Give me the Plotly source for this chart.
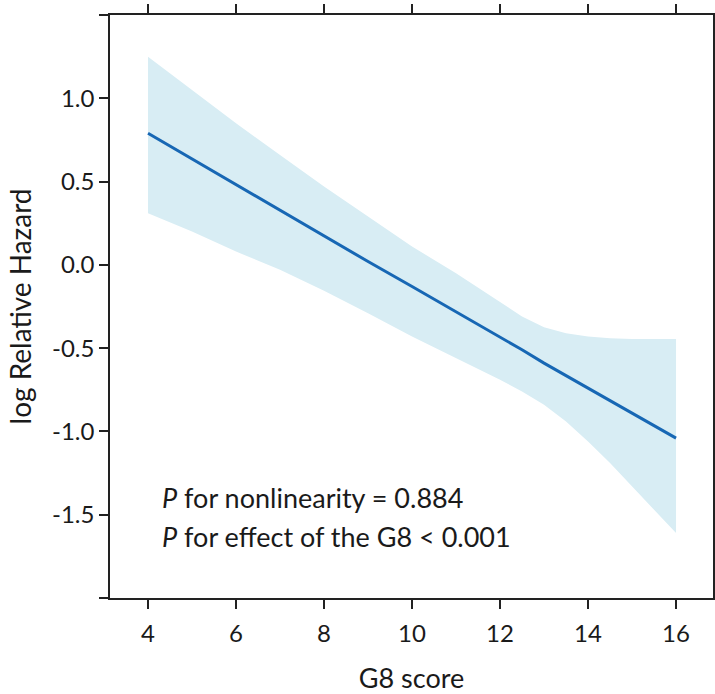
import plotly.graph_objects as go

g8 = [4, 5, 6, 7, 8, 9, 10, 11, 12, 12.5, 13, 13.5, 14, 14.5, 15, 16]
log_rh = [0.79, 0.635, 0.48, 0.33, 0.175, 0.02, -0.13, -0.28, -0.435, -0.51, -0.59, -0.665,
          -0.745, -0.82, -0.895, -1.04]
upper = [1.25, 1.05, 0.85, 0.66, 0.47, 0.29, 0.11, -0.05, -0.22, -0.31, -0.375, -0.41,
         -0.43, -0.44, -0.445, -0.445]
lower = [0.31, 0.20, 0.08, -0.03, -0.155, -0.29, -0.43, -0.56, -0.69, -0.76, -0.84, -0.94,
         -1.06, -1.19, -1.33, -1.61]

x_ticks = [4, 6, 8, 10, 12, 14, 16]
y_ticks = [-2.0, -1.5, -1.0, -0.5, 0.0, 0.5, 1.0, 1.5]
y_labels = ["", "-1.5", "-1.0", "-0.5", "0.0", "0.5", "1.0", ""]

FONT = "Lato"
TXT = "#1a1a1a"

fig = go.Figure()
fig.add_trace(go.Scatter(x=g8 + g8[::-1], y=upper + lower[::-1], fill="toself",
                         fillcolor="#d8edf4", line=dict(width=0), mode="lines",
                         hoverinfo="skip", showlegend=False))
fig.add_trace(go.Scatter(x=g8, y=log_rh, mode="lines",
                         line=dict(color="#1767b4", width=3), showlegend=False))

fig.add_annotation(x=0.083, y=0.173, xref="paper", yref="paper", xanchor="left", yanchor="middle",
                   text="<i>P</i> for nonlinearity = 0.884", showarrow=False,
                   font=dict(family=FONT, size=27, color=TXT))
fig.add_annotation(x=0.083, y=0.105, xref="paper", yref="paper", xanchor="left", yanchor="middle",
                   text="<i>P</i> for effect of the G8 < 0.001", showarrow=False,
                   font=dict(family=FONT, size=27, color=TXT))

axis_common = dict(showline=True, linecolor="#222", linewidth=1.5, mirror="ticks",
                   ticks="outside", ticklen=9, tickwidth=1.5, tickcolor="#222",
                   showgrid=False, zeroline=False,
                   tickfont=dict(family=FONT, size=24, color=TXT))

fig.update_layout(
    width=715, height=694,
    margin=dict(l=110, r=2, t=15, b=96),
    paper_bgcolor="white", plot_bgcolor="white",
    xaxis=dict(range=[3.136, 16.84], tickvals=x_ticks, ticklabelstandoff=4,
               title=dict(text="G8 score", font=dict(family=FONT, size=27, color=TXT), standoff=25),
               automargin=False, **axis_common),
    yaxis=dict(range=[-2.0, 1.5], tickvals=y_ticks, ticktext=y_labels,
               title=dict(text="log Relative Hazard", font=dict(family=FONT, size=28, color=TXT), standoff=12),
               automargin=False, **axis_common),
)

fig.write_html("out.html")
